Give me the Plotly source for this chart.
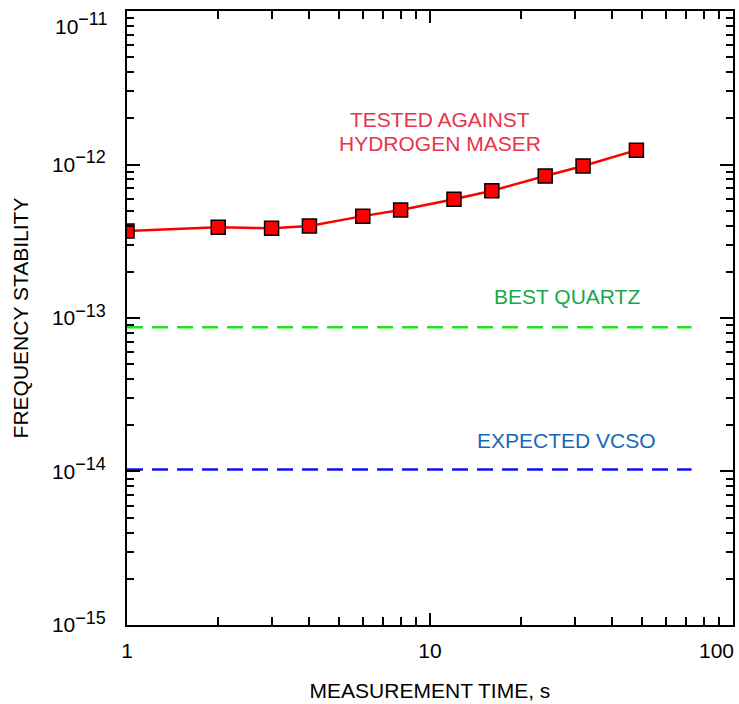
import plotly.graph_objects as go

# Measured Allan deviation vs hydrogen maser
tau_s = [1, 2, 3, 4, 6, 8, 12, 16, 24, 32, 48]
sigma_measured = [3.69e-13, 3.90e-13, 3.84e-13, 3.97e-13, 4.61e-13, 5.05e-13,
                  5.93e-13, 6.75e-13, 8.41e-13, 9.77e-13, 1.24e-12]

# Reference levels
ref_tau = [1, 73]
best_quartz = [8.7e-14, 8.7e-14]
expected_vcso = [1.03e-14, 1.03e-14]


def pow10(exp):
    return "10<sup><span style='font-size:18px'>\u2212%d</span></sup>" % exp


# Major tick labels; the labels at the far ends of each axis are placed separately
y_tickvals = [1e-15, 1e-14, 1e-13, 1e-12, 1e-11]
y_ticktext = [pow10(15), pow10(14), pow10(13), pow10(12), ""]
y_top_label = pow10(11)
x_tickvals = [1, 10, 100]
x_ticktext = ["1", "10", ""]
x_right_label = "100"

x_minor = [m * d for d in (1, 10) for m in range(2, 10)]
y_minor = [m * 10.0 ** e for e in range(-15, -11) for m in range(2, 10)]

FONT = "Liberation Sans, Arial, Helvetica, sans-serif"
FS = 21
EPS = 1e-4

fig = go.Figure()

fig.add_trace(go.Scatter(
    x=ref_tau, y=best_quartz, mode="lines",
    line=dict(color="#22e022", width=2.5, dash="16px,9px"),
    hoverinfo="skip", showlegend=False))
fig.add_trace(go.Scatter(
    x=ref_tau, y=expected_vcso, mode="lines",
    line=dict(color="#1010f0", width=2.5, dash="16px,9px"),
    hoverinfo="skip", showlegend=False))
fig.add_trace(go.Scatter(
    x=tau_s, y=sigma_measured, mode="lines+markers",
    line=dict(color="#ff0000", width=2.5),
    marker=dict(symbol="square", size=14, color="#ff0000",
                line=dict(color="#000000", width=1.5)),
    showlegend=False))

tick_font = dict(family=FONT, size=FS, color="black")

fig.update_xaxes(
    type="log", showgrid=False, zeroline=False, showline=True,
    linecolor="black", linewidth=2, mirror="allticks",
    ticks="inside", tickcolor="black", tickwidth=1.5, tickfont=tick_font,
    range=[-EPS, 2 + EPS], tickvals=x_tickvals, ticktext=x_ticktext,
    ticklen=12, ticklabelstandoff=6,
    minor=dict(tickvals=x_minor, ticks="inside", ticklen=8,
               tickcolor="black", tickwidth=1.5, showgrid=False),
    title=dict(text="MEASUREMENT TIME, s", font=dict(family=FONT, size=FS, color="black"),
               standoff=22),
)
fig.update_yaxes(
    type="log", showgrid=False, zeroline=False, showline=True,
    linecolor="black", linewidth=2, mirror="allticks",
    ticks="inside", tickcolor="black", tickwidth=1.5, tickfont=tick_font,
    range=[-15 - EPS, -11 + EPS], tickvals=y_tickvals, ticktext=y_ticktext,
    ticklen=13, ticklabelstandoff=15,
    minor=dict(tickvals=y_minor, ticks="inside", ticklen=7,
               tickcolor="black", tickwidth=1.5, showgrid=False),
    title=dict(text="FREQUENCY STABILITY", font=dict(family=FONT, size=FS, color="black"),
               standoff=18),
)

# End-of-axis tick labels, nudged inward so they stay on the page
fig.add_annotation(x=0.973, y=-0.019, xref="paper", yref="paper", text=x_right_label,
                   xanchor="center", yanchor="top", showarrow=False, font=tick_font)
fig.add_annotation(x=-0.028, y=1.0, xref="paper", yref="paper", text=y_top_label,
                   xanchor="right", yanchor="top", showarrow=False, font=tick_font,
                   yshift=4)

red_txt = dict(family=FONT, size=FS, color="#e8354a")
fig.add_annotation(x=1.033, y=-11.71, xref="x", yref="y", text="TESTED AGAINST",
                   showarrow=False, font=red_txt)
fig.add_annotation(x=1.033, y=-11.86, xref="x", yref="y", text="HYDROGEN MASER",
                   showarrow=False, font=red_txt)
fig.add_annotation(x=1.452, y=-12.857, xref="x", yref="y", text="BEST QUARTZ",
                   showarrow=False, font=dict(family=FONT, size=FS, color="#18a84a"))
fig.add_annotation(x=1.452, y=-13.795, xref="x", yref="y", text="EXPECTED VCSO",
                   showarrow=False, font=dict(family=FONT, size=FS, color="#1668b8"))

fig.update_layout(
    width=739, height=704,
    margin=dict(l=127, r=4, t=11, b=79),
    plot_bgcolor="white", paper_bgcolor="white",
    font=dict(family=FONT, color="black"),
)

fig.write_html("out.html")
